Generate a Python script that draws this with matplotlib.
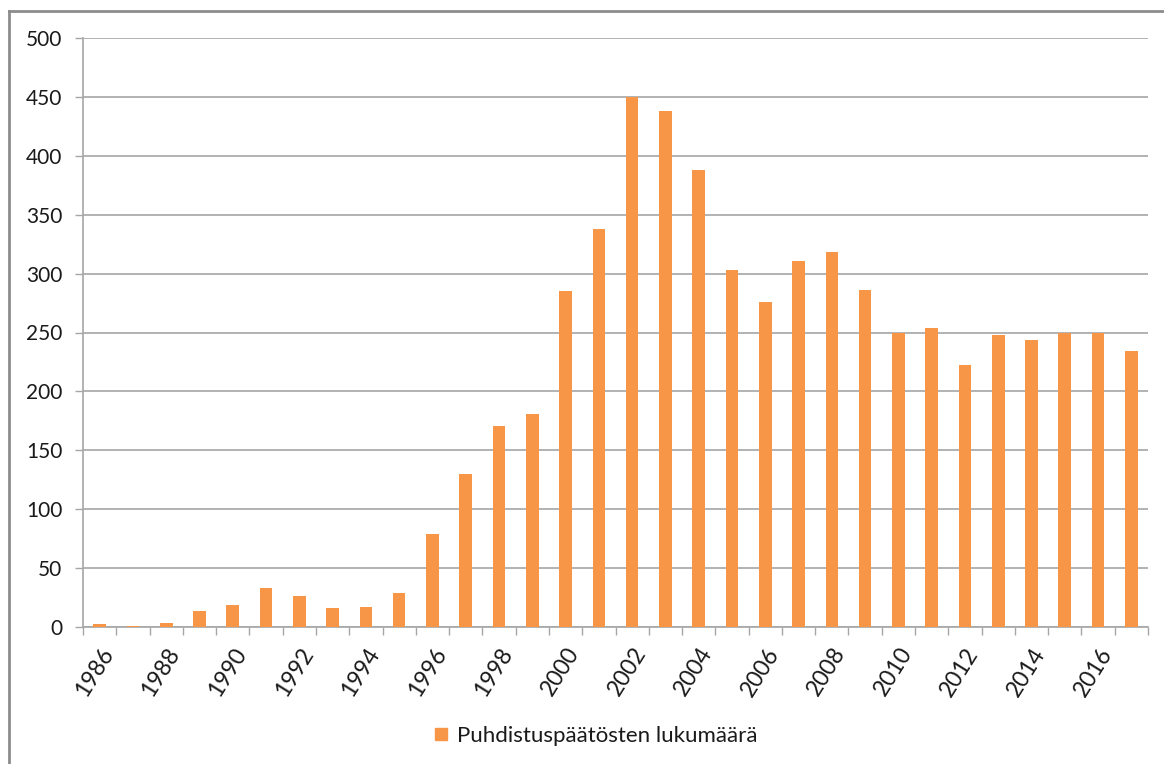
import matplotlib
matplotlib.use("Agg")
import matplotlib.pyplot as plt
from matplotlib.lines import Line2D
import matplotlib.transforms as mtransforms
import numpy as np

years = list(range(1986, 2018))
values = [2.5, 1, 3, 14, 19, 33, 26, 16, 17, 29, 79, 130, 171, 181, 285, 338,
          450, 438, 388, 303, 276, 311, 318, 286, 250, 254, 222, 248, 244, 250, 250, 234]
label_years = list(range(1986, 2017, 2))
series_name = "Puhdistuspäätösten lukumäärä"
yticks = [0, 50, 100, 150, 200, 250, 300, 350, 400, 450, 500]

plt.rcParams['font.family'] = ['Lato', 'DejaVu Sans']
bar_color = '#F79646'
grid_color = '#A6A6A6'
text_color = '#1a1a1a'

fig = plt.figure(figsize=(11.64, 7.64), dpi=100)
ax = fig.add_axes([83/1164, 137/764, (1148-83)/1164, (627-38)/764])

x = np.arange(len(years))
ax.bar(x, values, width=0.38, color=bar_color, zorder=3)

ax.set_xlim(-0.5, len(years) - 0.5)
ax.set_ylim(0, 500)
ax.set_yticks(yticks)
ax.set_yticklabels([str(v) for v in yticks], fontsize=15, color=text_color)
ax.yaxis.grid(True, color=grid_color, linewidth=1.2, zorder=0)
ax.tick_params(axis='y', length=6, width=1, color=grid_color, pad=9)

# major ticks at category boundaries, labels at centres
ax.set_xticks(np.arange(-0.5, len(years), 1.0))
ax.set_xticklabels([])
ax.tick_params(axis='x', which='major', length=6, width=1, color=grid_color)
ax.set_xticks([years.index(y) for y in label_years], minor=True)
labels = ax.set_xticklabels([str(y) for y in label_years], minor=True, rotation=58,
                            ha='right', rotation_mode='anchor', fontsize=16.5, color=text_color)
offset = mtransforms.ScaledTranslation(5/100, 0, fig.dpi_scale_trans)
for lab in labels:
    lab.set_transform(lab.get_transform() + offset)
ax.tick_params(axis='x', which='minor', length=0, pad=12)

for s in ['top', 'right']:
    ax.spines[s].set_visible(False)
for s in ['left', 'bottom']:
    ax.spines[s].set_color(grid_color)
    ax.spines[s].set_linewidth(1.2)

# legend
handle = Line2D([], [], marker='s', linestyle='none', markersize=9,
                markerfacecolor=bar_color, markeredgecolor=bar_color)
fig.legend([handle], [series_name], loc='center', bbox_to_anchor=(596/1164, 1 - 736/764),
           frameon=False, fontsize=16, handlelength=0.6, handletextpad=0.4,
           labelcolor=text_color)

# outer frame lines (top and left)
fig.add_artist(Line2D([9/1164, 1], [1 - 11/764, 1 - 11/764], transform=fig.transFigure,
                      color='#8c8c8c', linewidth=2))
fig.add_artist(Line2D([9/1164, 9/1164], [0, 1 - 11/764], transform=fig.transFigure,
                      color='#8c8c8c', linewidth=2))

fig.savefig("out.png", dpi=100, facecolor='white')
